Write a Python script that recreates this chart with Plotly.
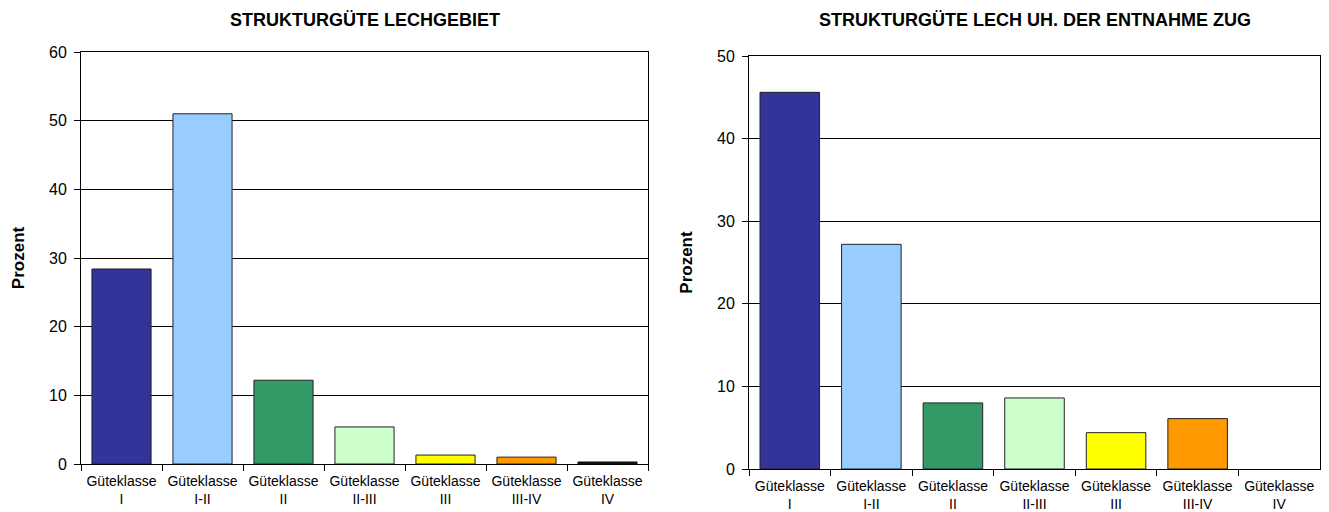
import plotly.graph_objects as go

# Güteklassen (categories) and share of river length in percent
classes = ["I", "I-II", "II", "II-III", "III", "III-IV", "IV"]
lechgebiet = [28.4, 51.0, 12.2, 5.4, 1.3, 1.0, 0.3]
lech_uh_zug = [45.6, 27.2, 8.0, 8.6, 4.4, 6.1, 0.0]
class_colors = ["#333399", "#99CCFF", "#339966", "#CCFFCC", "#FFFF00", "#FF9900", "#000000"]
tick_text = ["Güteklasse<br>" + c for c in classes]

title_left = "STRUKTURGÜTE LECHGEBIET"
title_right = "STRUKTURGÜTE LECH UH. DER ENTNAHME ZUG"

FONT = "Liberation Sans, Arial, sans-serif"
W, H = 1329, 512


def outline_widths(values):
    # empty classes get no outline so no hairline shows on the baseline
    return [1 if v > 0 else 0 for v in values]


fig = go.Figure()
fig.add_trace(go.Bar(x=classes, y=lechgebiet, marker_color=class_colors,
                     marker_line=dict(color="#222222", width=outline_widths(lechgebiet)),
                     xaxis="x", yaxis="y", showlegend=False, hoverinfo="x+y"))
fig.add_trace(go.Bar(x=classes, y=lech_uh_zug, marker_color=class_colors,
                     marker_line=dict(color="#222222", width=outline_widths(lech_uh_zug)),
                     xaxis="x2", yaxis="y2", showlegend=False, hoverinfo="x+y"))

def xpx(px):
    return px / W

def ypx(px):
    return 1 - px / H

xcommon = dict(type="category", tickmode="array", tickvals=classes, ticktext=tick_text,
               tickson="boundaries", ticks="outside", ticklen=6, tickcolor="#000000",
               showgrid=False, showline=True, linecolor="#000000", linewidth=1, mirror=True,
               tickfont=dict(family=FONT, size=14, color="#000000"), zeroline=False,
               ticklabelstandoff=4, automargin=False)
ycommon = dict(dtick=10, ticks="outside", ticklen=6, tickcolor="#000000",
               showgrid=True, gridcolor="#000000", gridwidth=1,
               showline=True, linecolor="#000000", linewidth=1, mirror=True,
               tickfont=dict(family=FONT, size=16, color="#000000"), zeroline=False,
               ticklabelstandoff=4, automargin=False,
               title=dict(text="<b>Prozent</b>", font=dict(family=FONT, size=17, color="#000000"),
                          standoff=20))

fig.update_layout(
    width=W, height=H,
    margin=dict(l=0, r=0, t=0, b=0),
    paper_bgcolor="#FFFFFF", plot_bgcolor="#FFFFFF",
    bargap=0.27,
    xaxis=dict(domain=[xpx(81), xpx(648)], anchor="y", **xcommon),
    yaxis=dict(domain=[ypx(464), ypx(52)], range=[0, 60], anchor="x", **ycommon),
    xaxis2=dict(domain=[xpx(749), xpx(1320)], anchor="y2", **xcommon),
    yaxis2=dict(domain=[ypx(469), ypx(56)], range=[0, 50], anchor="x2", **ycommon),
    annotations=[
        dict(text="<b>" + title_left + "</b>", xref="paper", yref="paper",
             x=(xpx(81) + xpx(648)) / 2, y=ypx(20), xanchor="center", yanchor="middle",
             showarrow=False, font=dict(family=FONT, size=18, color="#000000")),
        dict(text="<b>" + title_right + "</b>", xref="paper", yref="paper",
             x=(xpx(749) + xpx(1320)) / 2, y=ypx(20), xanchor="center", yanchor="middle",
             showarrow=False, font=dict(family=FONT, size=18, color="#000000")),
    ],
)

fig.write_html("out.html")
